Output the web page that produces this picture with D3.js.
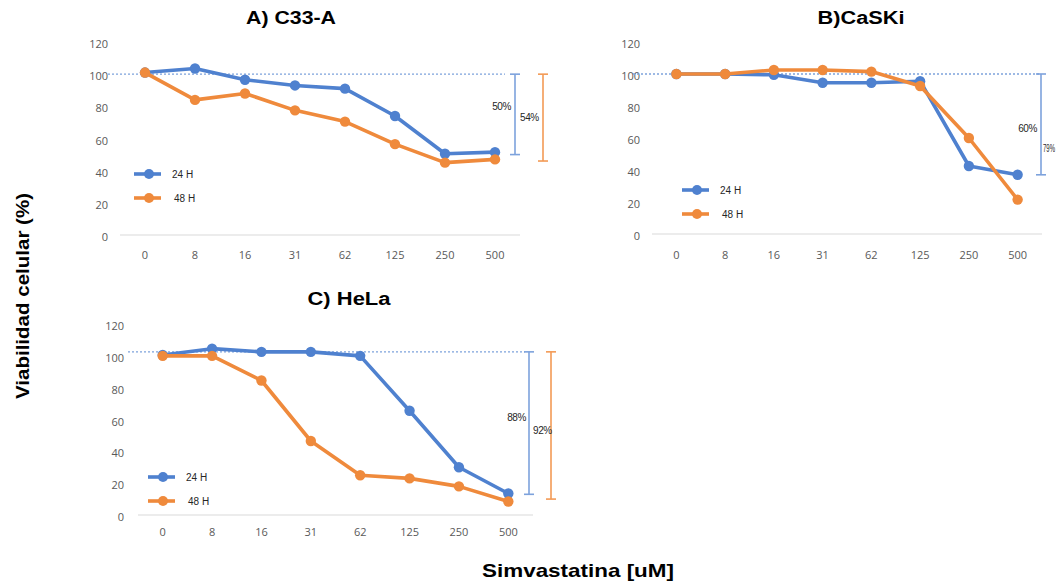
<!DOCTYPE html>
<html>
<head>
<meta charset="utf-8">
<script src="https://cdn.jsdelivr.net/npm/d3@7"></script>
<style>
  body { margin: 0; background: #fff; }
  svg { display: block; }
  .tick-lab { font-family: "Open Sans", "Liberation Sans", sans-serif; font-size: 11px; fill: #595959; }
  .leg { font-family: "Liberation Sans", Arial, sans-serif; font-size: 10px; fill: #262626; }
  .pct { font-family: "Liberation Sans Narrow", "Liberation Sans", Arial, sans-serif; font-size: 10px; fill: #262626; }
  .ptitle { font-family: "Liberation Sans", Arial, sans-serif; font-size: 18px; font-weight: bold; fill: #000; }
  .atitle { font-family: "Liberation Sans", Arial, sans-serif; font-size: 19px; font-weight: bold; fill: #000; }
</style>
</head>
<body>
<svg width="1057" height="584"></svg>
<script>
var doses = ["0", "8", "16", "31", "62", "125", "250", "500"];
var yTicks = [0, 20, 40, 60, 80, 100, 120];
var seriesNames = ["24 H", "48 H"];

// viabilidad (%) por panel
var c33a24 = [101, 103.5, 96.5, 93, 91, 74, 50.5, 51.5];
var c33a48 = [101, 84, 88, 77.5, 70.5, 56.5, 45, 47];
var caski24 = [100, 100, 99.5, 94.5, 94.5, 95.5, 42.5, 37];
var caski48 = [100, 100, 102.5, 102.5, 101.5, 92.5, 60, 21.5];
var hela24 = [100.5, 104.5, 102.5, 102.5, 100, 65.5, 30, 13.5];
var hela48 = [100, 100, 84.5, 46.5, 25, 23, 18, 8.5];

// corchetes de inhibicion: [desde, hasta, etiqueta]
var c33aBrackets = [[100, 50, "50%"], [100, 46, "54%"]];
var caskiBrackets = [[100, 37, "60%"], [100, 37, "79%"]];
var helaBrackets = [[102.5, 13, "88%"], [102.5, 10, "92%"]];

var blue = "#4f81cf", orange = "#ef8a3c";
var blueLight = "#7da2dc", orangeLight = "#f39a55";

var svg = d3.select("svg");
svg.append("rect").attr("width", 1057).attr("height", 584).attr("fill", "#fff");

function panel(o) {
  var g = svg.append("g");
  var x = d3.scaleBand().domain(doses).range([o.x0, o.x1]);
  var y = d3.scaleLinear().domain([0, 120]).range([o.yZero, o.yTop]);

  // baseline
  g.append("line")
      .attr("x1", o.x0).attr("x2", o.x1)
      .attr("y1", y(0)).attr("y2", y(0))
      .attr("stroke", "#d9d9d9").attr("stroke-width", 1.2);

  // y labels
  g.selectAll(".yl").data(yTicks).enter().append("text")
      .attr("class", "tick-lab")
      .attr("x", o.yLabX).attr("y", function(d) { return y(d) + 6; })
      .attr("text-anchor", "end")
      .text(function(d) { return d; });

  // x labels
  g.selectAll(".xl").data(doses).enter().append("text")
      .attr("class", "tick-lab")
      .attr("x", function(d) { return x(d) + x.bandwidth() / 2; })
      .attr("y", o.xLabY)
      .attr("text-anchor", "middle")
      .text(function(d) { return d; });

  // dotted reference line
  g.append("line")
      .attr("x1", o.dotX0).attr("x2", o.dotX1)
      .attr("y1", y(o.dotV)).attr("y2", y(o.dotV))
      .attr("stroke", blueLight).attr("stroke-width", 1.3)
      .attr("stroke-dasharray", "2,2");

  // brackets
  o.brackets.forEach(function(b, i) {
    var bx = o.bx[i], col = i == 0 ? blueLight : orangeLight;
    if (bx == null) return;
    g.append("line").attr("x1", bx).attr("x2", bx)
        .attr("y1", y(b[0])).attr("y2", y(b[1]))
        .attr("stroke", col).attr("stroke-width", 1.6);
    [b[0], b[1]].forEach(function(v) {
      g.append("line").attr("x1", bx - 5).attr("x2", bx + 5)
          .attr("y1", y(v)).attr("y2", y(v))
          .attr("stroke", col).attr("stroke-width", 1.6);
    });
  });
  o.pctLabels.forEach(function(p, i) {
    var t = g.append("text").attr("class", "pct")
        .attr("x", p[0]).attr("y", y(p[1]) + 4)
        .attr("text-anchor", p[2])
        .text(o.brackets[i][2]);
    if (p[3]) t.attr("textLength", p[3]).attr("lengthAdjust", "spacingAndGlyphs");
    else t.attr("letter-spacing", "-0.4");
  });

  var line = d3.line()
      .x(function(d, i) { return x(doses[i]) + x.bandwidth() / 2; })
      .y(function(d) { return y(d); });

  [o.s24, o.s48].forEach(function(s, k) {
    var col = k == 0 ? blue : orange;
    g.append("path").datum(s)
        .attr("d", line)
        .attr("fill", "none")
        .attr("stroke", col).attr("stroke-width", 3.6)
        .attr("stroke-linejoin", "round");
    g.selectAll(".pt" + k).data(s).enter().append("circle")
        .attr("cx", function(d, i) { return x(doses[i]) + x.bandwidth() / 2; })
        .attr("cy", function(d) { return y(d); })
        .attr("r", 5.2)
        .attr("fill", col);
  });

  // legend
  seriesNames.forEach(function(n, k) {
    var col = k == 0 ? blue : orange, ly = o.legY + k * 24;
    g.append("line").attr("x1", o.legX).attr("x2", o.legX + 27)
        .attr("y1", ly).attr("y2", ly)
        .attr("stroke", col).attr("stroke-width", 3.6);
    g.append("circle").attr("cx", o.legX + 15).attr("cy", ly).attr("r", 5).attr("fill", col);
    g.append("text").attr("class", "leg")
        .attr("x", o.legX + 38 + k * 2).attr("y", ly + 4)
        .text(n);
  });

  g.append("text").attr("class", "ptitle")
      .attr("x", o.titleX).attr("y", o.titleY)
      .attr("text-anchor", "middle")
      .attr("textLength", o.titleW).attr("lengthAdjust", "spacingAndGlyphs")
      .text(o.title);
}

panel({
  title: "A) C33-A", titleX: 291, titleY: 24, titleW: 90,
  x0: 120, x1: 520, yZero: 235, yTop: 42,
  yLabX: 108, xLabY: 259,
  dotX0: 108, dotX1: 505, dotV: 100,
  s24: c33a24, s48: c33a48,
  brackets: c33aBrackets, bx: [515, 543],
  pctLabels: [[511, 80, "end"], [520, 73.5, "start"]],
  legX: 134, legY: 174
});

panel({
  title: "B)CaSKi", titleX: 861, titleY: 24, titleW: 87,
  x0: 652, x1: 1042, yZero: 234, yTop: 42,
  yLabX: 640, xLabY: 259,
  dotX0: 633, dotX1: 1041, dotV: 100,
  s24: caski24, s48: caski48,
  brackets: caskiBrackets, bx: [1041, null],
  pctLabels: [[1037, 66, "end"], [1043, 53.5, "start", 12]],
  legX: 682, legY: 190
});

panel({
  title: "C) HeLa", titleX: 349, titleY: 305, titleW: 83,
  x0: 138, x1: 533, yZero: 515, yTop: 324,
  yLabX: 124, xLabY: 536,
  dotX0: 128, dotX1: 525, dotV: 102.5,
  s24: hela24, s48: hela48,
  brackets: helaBrackets, bx: [529, 551],
  pctLabels: [[526, 61.5, "end"], [533, 53.5, "start"]],
  legX: 148, legY: 477
});

svg.append("text").attr("class", "atitle")
    .attr("transform", "translate(29,296) rotate(-90)")
    .attr("text-anchor", "middle")
    .attr("textLength", 206).attr("lengthAdjust", "spacingAndGlyphs")
    .text("Viabilidad celular (%)");

svg.append("text").attr("class", "atitle")
    .attr("x", 578).attr("y", 577)
    .attr("text-anchor", "middle")
    .attr("textLength", 192).attr("lengthAdjust", "spacingAndGlyphs")
    .text("Simvastatina [uM]");
</script>
</body>
</html>
